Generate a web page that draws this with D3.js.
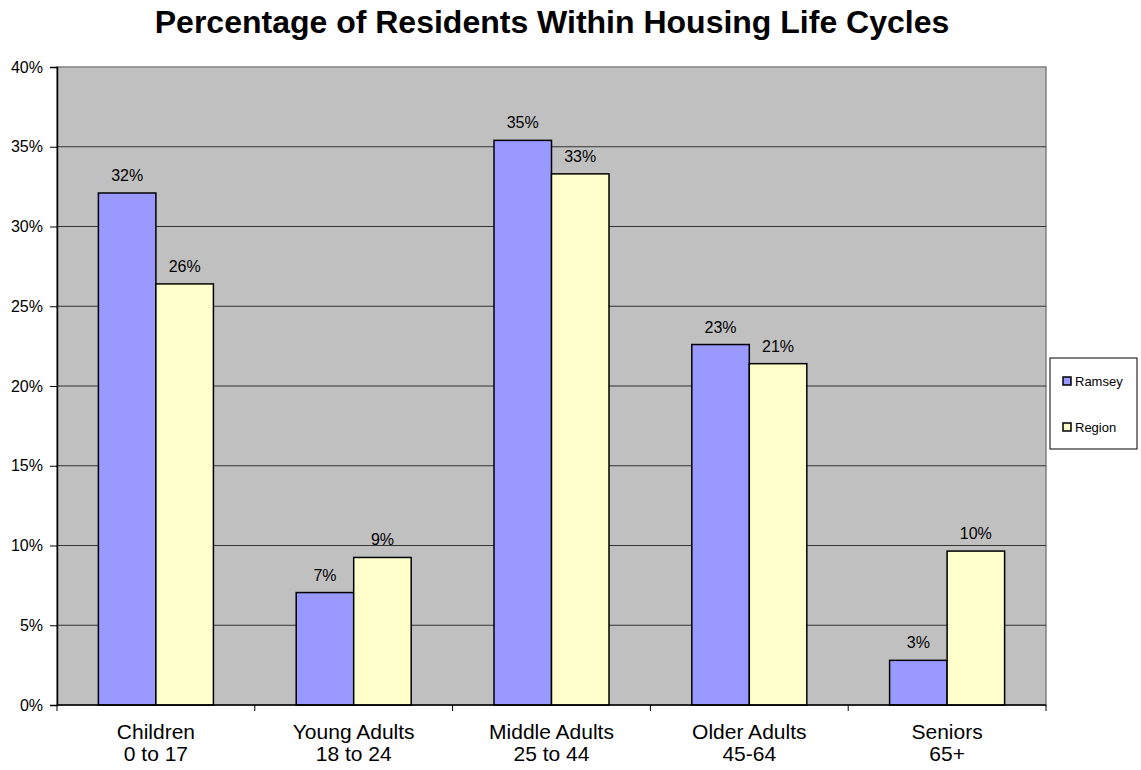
<!DOCTYPE html>
<html>
<head>
<meta charset="utf-8">
<script src="https://cdn.jsdelivr.net/npm/d3@7"></script>
<style>
  body { margin: 0; background: #fff; }
  text { font-family: Arial, "Liberation Sans", sans-serif; fill: #000; }
</style>
</head>
<body>
<svg width="1141" height="770"></svg>
<script>
var categories = ['Children|0 to 17', 'Young Adults|18 to 24', 'Middle Adults|25 to 44', 'Older Adults|45-64', 'Seniors|65+']
var seriesNames = ['Ramsey', 'Region']
var ramsey = [32.1, 7.05, 35.4, 22.6, 2.8]
var region = [26.4, 9.25, 33.3, 21.4, 9.65]
var yTicks = [0, 5, 10, 15, 20, 25, 30, 35, 40]
var colors = ['#9999ff', '#ffffcc']

var svg = d3.select('svg')
var margin = {left: 57, right: 1046, top: 67, bottom: 705}

var x = d3.scaleBand()
    .domain(categories)
    .range([margin.left, margin.right])
    .paddingInner(0)
    .paddingOuter(0)

var x1 = d3.scaleBand()
    .domain(seriesNames)
    .range([0, x.bandwidth()])
    .paddingInner(0)
    .paddingOuter(0.72)

var y = d3.scaleLinear()
    .domain([0, 40])
    .range([margin.bottom, margin.top])

// plot background
svg.append('rect')
    .attr('x', margin.left).attr('y', margin.top)
    .attr('width', margin.right - margin.left)
    .attr('height', margin.bottom - margin.top)
    .attr('fill', '#c0c0c0')
    .attr('stroke', '#808080')
    .attr('stroke-width', 1.5)

// gridlines
svg.append('g').selectAll('line')
    .data(yTicks.slice(1, -1))
    .enter().append('line')
    .attr('x1', margin.left).attr('x2', margin.right)
    .attr('y1', function(d) { return y(d) }).attr('y2', function(d) { return y(d) })
    .attr('stroke', '#333')
    .attr('stroke-width', 1)

// bars
var data = categories.map(function(c, i) {
  return {cat: c, values: [ramsey[i], region[i]]}
})

var groups = svg.append('g').selectAll('g')
    .data(data)
    .enter().append('g')
    .attr('transform', function(d) { return 'translate(' + x(d.cat) + ',0)' })

groups.selectAll('rect')
    .data(function(d) { return d.values.map(function(v, j) { return {s: seriesNames[j], v: v, j: j} }) })
    .enter().append('rect')
    .attr('x', function(d) { return x1(d.s) })
    .attr('y', function(d) { return y(d.v) })
    .attr('width', x1.bandwidth())
    .attr('height', function(d) { return y(0) - y(d.v) })
    .attr('fill', function(d) { return colors[d.j] })
    .attr('stroke', '#000')
    .attr('stroke-width', 1.5)

groups.selectAll('text.val')
    .data(function(d) { return d.values.map(function(v, j) { return {s: seriesNames[j], v: v} }) })
    .enter().append('text')
    .attr('class', 'val')
    .attr('x', function(d) { return x1(d.s) + x1.bandwidth() / 2 })
    .attr('y', function(d) { return y(d.v) - 12 })
    .attr('text-anchor', 'middle')
    .style('font-size', '16px')
    .text(function(d) { return Math.round(d.v) + '%' })

// y axis
var yAxis = d3.axisLeft(y)
    .tickValues(yTicks)
    .tickSize(7)
    .tickPadding(7)
    .tickFormat(function(d) { return d + '%' })

var yg = svg.append('g')
    .attr('transform', 'translate(' + margin.left + ',0)')
    .call(yAxis)
yg.select('.domain').attr('stroke', '#000').attr('stroke-width', 1.5)
yg.selectAll('.tick line').attr('stroke', '#000')
yg.selectAll('.tick text').style('font-size', '16px').style('font-family', 'Arial, "Liberation Sans", sans-serif')

// x axis
var xg = svg.append('g')
    .attr('transform', 'translate(0,' + margin.bottom + ')')
xg.append('line')
    .attr('x1', margin.left).attr('x2', margin.right)
    .attr('stroke', '#000').attr('stroke-width', 1.5)
xg.selectAll('line.tk')
    .data(categories.concat(['end']))
    .enter().append('line')
    .attr('class', 'tk')
    .attr('x1', function(d, i) { return margin.left + i * x.bandwidth() })
    .attr('x2', function(d, i) { return margin.left + i * x.bandwidth() })
    .attr('y1', 0).attr('y2', 6)
    .attr('stroke', '#000')

var xl = xg.selectAll('text')
    .data(categories)
    .enter().append('text')
    .attr('x', function(d) { return x(d) + x.bandwidth() / 2 })
    .attr('text-anchor', 'middle')
    .style('font-size', '21px')
xl.append('tspan')
    .attr('x', function(d) { return x(d) + x.bandwidth() / 2 })
    .attr('y', 34)
    .text(function(d) { return d.split('|')[0] })
xl.append('tspan')
    .attr('x', function(d) { return x(d) + x.bandwidth() / 2 })
    .attr('y', 56)
    .text(function(d) { return d.split('|')[1] })

// title
svg.append('text')
    .attr('x', 552).attr('y', 33)
    .attr('text-anchor', 'middle')
    .style('font-size', '32px')
    .style('font-weight', 'bold')
    .text('Percentage of Residents Within Housing Life Cycles')

// legend
var legend = svg.append('g').attr('transform', 'translate(1050,358)')
legend.append('rect')
    .attr('width', 87).attr('height', 91)
    .attr('fill', '#fff').attr('stroke', '#000')
var li = legend.selectAll('g')
    .data(seriesNames)
    .enter().append('g')
    .attr('transform', function(d, i) { return 'translate(13,' + (23 + i * 46) + ')' })
li.append('rect')
    .attr('x', 0).attr('y', -4).attr('width', 8).attr('height', 8)
    .attr('fill', function(d, i) { return colors[i] })
    .attr('stroke', '#000').attr('stroke-width', 1.5)
li.append('text')
    .attr('x', 12).attr('y', 5)
    .style('font-size', '13px')
    .text(function(d) { return d })
</script>
</body>
</html>
